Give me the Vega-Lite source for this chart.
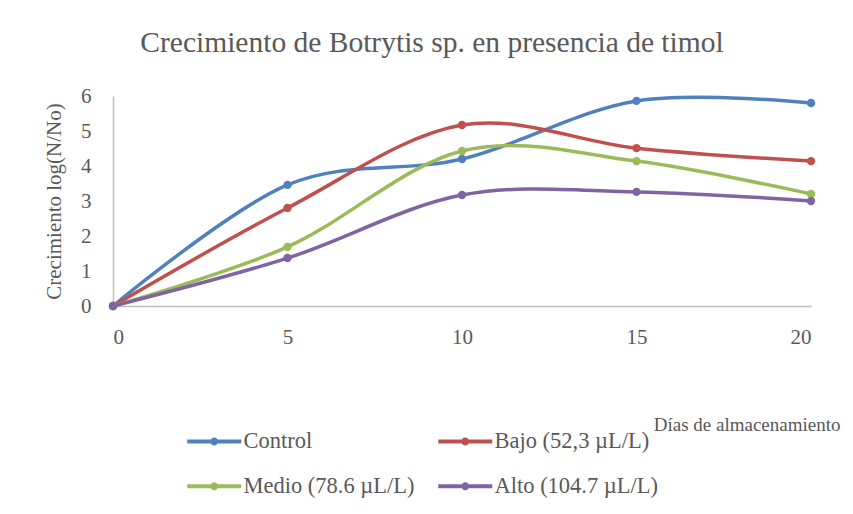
{
  "$schema": "https://vega.github.io/schema/vega-lite/v6.json",
  "width": 698,
  "height": 210,
  "autosize": "none",
  "padding": {"left": 113, "top": 96, "right": 42, "bottom": 208},
  "background": "white",
  "view": {"stroke": null},
  "config": {"view": {"stroke": null}},
  "title": {
    "text": "Crecimiento de Botrytis sp. en presencia de timol",
    "font": "Liberation Serif",
    "fontSize": 29.5,
    "fontWeight": "normal",
    "color": "#595959",
    "anchor": "middle",
    "frame": "group",
    "dx": -30,
    "offset": 27
  },
  "data": {
    "values": [
      {"dia": 0, "serie": "Control", "valor": 0},
      {"dia": 5, "serie": "Control", "valor": 3.46},
      {"dia": 10, "serie": "Control", "valor": 4.2},
      {"dia": 15, "serie": "Control", "valor": 5.86},
      {"dia": 20, "serie": "Control", "valor": 5.8},
      {"dia": 0, "serie": "Bajo (52,3 µL/L)", "valor": 0},
      {"dia": 5, "serie": "Bajo (52,3 µL/L)", "valor": 2.8},
      {"dia": 10, "serie": "Bajo (52,3 µL/L)", "valor": 5.17},
      {"dia": 15, "serie": "Bajo (52,3 µL/L)", "valor": 4.51},
      {"dia": 20, "serie": "Bajo (52,3 µL/L)", "valor": 4.14},
      {"dia": 0, "serie": "Medio (78.6 µL/L)", "valor": 0},
      {"dia": 5, "serie": "Medio (78.6 µL/L)", "valor": 1.69},
      {"dia": 10, "serie": "Medio (78.6 µL/L)", "valor": 4.43},
      {"dia": 15, "serie": "Medio (78.6 µL/L)", "valor": 4.14},
      {"dia": 20, "serie": "Medio (78.6 µL/L)", "valor": 3.2},
      {"dia": 0, "serie": "Alto (104.7 µL/L)", "valor": 0},
      {"dia": 5, "serie": "Alto (104.7 µL/L)", "valor": 1.37},
      {"dia": 10, "serie": "Alto (104.7 µL/L)", "valor": 3.17},
      {"dia": 15, "serie": "Alto (104.7 µL/L)", "valor": 3.26},
      {"dia": 20, "serie": "Alto (104.7 µL/L)", "valor": 3.0}
    ]
  },
  "encoding": {
    "x": {
      "field": "dia",
      "type": "quantitative",
      "scale": {"domain": [0, 20], "nice": false, "zero": true},
      "axis": {
        "title": "Días de almacenamiento",
        "values": [0, 5, 10, 15, 20],
        "grid": false,
        "ticks": false,
        "domainColor": "#BFBFBF",
        "domainWidth": 1.5,
        "labelFont": "Liberation Serif",
        "labelFontSize": 21,
        "labelColor": "#595959",
        "labelPadding": 20,
        "titleFont": "Liberation Serif",
        "titleFontSize": 19,
        "titleFontWeight": "normal",
        "titleColor": "#595959",
        "titleAnchor": "end",
        "titleAlign": "right",
        "titleBaseline": "alphabetic",
        "titleX": 727,
        "titleY": 124
      }
    },
    "y": {
      "field": "valor",
      "type": "quantitative",
      "scale": {"domain": [0, 6], "nice": false},
      "axis": {
        "title": "Crecimiento log(N/No)",
        "values": [0, 1, 2, 3, 4, 5, 6],
        "grid": false,
        "ticks": false,
        "domainColor": "#BFBFBF",
        "domainWidth": 1.5,
        "labelFont": "Liberation Serif",
        "labelFontSize": 21,
        "labelColor": "#595959",
        "labelPadding": 22,
        "titleFont": "Liberation Serif",
        "titleFontSize": 21,
        "titleFontWeight": "normal",
        "titleColor": "#595959",
        "titlePadding": 16
      }
    },
    "color": {
      "field": "serie",
      "type": "nominal",
      "sort": ["Control", "Bajo (52,3 µL/L)", "Medio (78.6 µL/L)", "Alto (104.7 µL/L)"],
      "scale": {
        "domain": ["Control", "Bajo (52,3 µL/L)", "Medio (78.6 µL/L)", "Alto (104.7 µL/L)"],
        "range": ["#4F81BD", "#C0504D", "#9BBB59", "#8064A2"]
      },
      "legend": {
        "title": null,
        "orient": "none",
        "direction": "horizontal",
        "legendX": 73,
        "legendY": 334,
        "columns": 2,
        "columnPadding": 22,
        "rowPadding": 22,
        "symbolSize": 400,
        "symbolType": "M-1,-0.2L4.4,-0.2L4.4,0.2L-1,0.2Z M2.1,0A0.4,0.4,0,1,1,1.3,0A0.4,0.4,0,1,1,2.1,0Z",
        "symbolStrokeWidth": 0,
        "labelOffset": 35,
        "labelFont": "Liberation Serif",
        "labelFontSize": 22.5,
        "labelColor": "#595959",
        "labelLimit": 300
      }
    }
  },
  "layer": [
    {
      "mark": {"type": "line", "interpolate": "cardinal", "tension": 0, "strokeWidth": 3.5}
    },
    {
      "mark": {"type": "point", "filled": true, "size": 70, "opacity": 1}
    }
  ]
}
